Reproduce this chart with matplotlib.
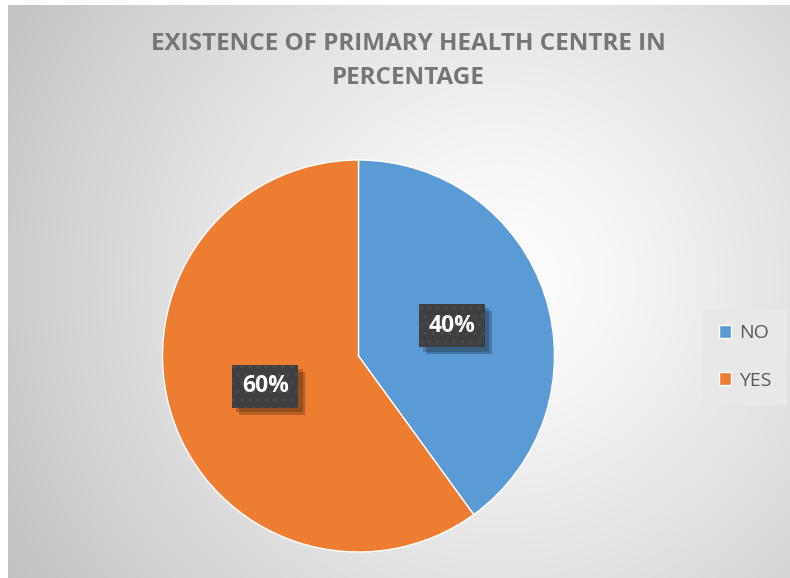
import numpy as np
import matplotlib
matplotlib.use("Agg")
import matplotlib.pyplot as plt
import matplotlib.patheffects as pe

# Survey answers
categories = ["NO", "YES"]
shares = [40, 60]
title_text = "EXISTENCE OF PRIMARY HEALTH CENTRE IN\nPERCENTAGE"
slice_colors = ["#5B9BD5", "#ED7D31"]

W, H = 790, 578
plt.rcParams["font.family"] = ["Open Sans", "DejaVu Sans"]
plt.rcParams["hatch.linewidth"] = 1.3

fig = plt.figure(figsize=(W / 100, H / 100), dpi=100)
fig.patch.set_facecolor("white")
ax = fig.add_axes([0, 0, 1, 1])

# Radial grey-to-white background of the chart area
x0, y0 = 8, 5
xs = np.arange(x0, W) + 0.5
ys = np.arange(y0, H) + 0.5
XX, YY = np.meshgrid(xs, ys)
r = np.hypot(XX - 500, YY - 280)
val = 255 - 60 * (r / 563) ** 1.2
val = np.clip(val, 0, 255) / 255.0
img = np.dstack([val, val, val])
ax.imshow(img, extent=(x0, W, 0, H - y0), origin="upper", aspect="auto",
          zorder=0, interpolation="bilinear")

# Pie
label_size = 16.5
wedges, _, autotexts = ax.pie(
    shares,
    colors=slice_colors,
    startangle=90,
    counterclock=False,
    center=(358.5, H - 356),
    radius=196,
    frame=True,
    autopct=lambda p: f"{p:.0f}%",
    pctdistance=0.5,
    wedgeprops=dict(edgecolor="white", linewidth=1.0),
    textprops=dict(color="white", fontsize=label_size, fontweight="bold"),
)
box_pad = "square,pad=0.42"
for t in autotexts:
    x, y = t.get_position()
    # soft drop shadow behind the label box
    sh = ax.text(x, y, t.get_text(), ha="center", va="center", color="none",
                 fontsize=label_size, fontweight="bold", zorder=4)
    sh.set_bbox(dict(boxstyle=box_pad, facecolor="#404040", edgecolor="none"))
    sh.get_bbox_patch().set_path_effects([
        pe.SimplePatchShadow(offset=(5, -5), shadow_rgbFace="black", alpha=0.22),
        pe.SimplePatchShadow(offset=(3, -3), shadow_rgbFace="black", alpha=0.2),
    ])
    t.set_zorder(5)
    t.set_bbox(dict(boxstyle=box_pad, facecolor="#3f3f3f",
                    edgecolor="#4a4a4a", linewidth=0, hatch=".."))

# Title
ax.text(408.5, H - 61, title_text, ha="center", va="center",
        fontsize=17.5, fontweight="bold", color="#767676", linespacing=1.5)

# Legend
leg = ax.legend(wedges, categories, loc="center", bbox_to_anchor=(745, H - 357),
                bbox_transform=ax.transData, frameon=True, fontsize=14,
                handlelength=0.65, handleheight=0.65, handletextpad=0.4,
                labelspacing=1.5, borderpad=0.8, fancybox=False)
leg.get_frame().set_facecolor("#e8e8e8")
leg.get_frame().set_edgecolor("none")
leg.get_frame().set_alpha(1)
for t in leg.get_texts():
    t.set_color("#595959")

ax.set_xlim(0, W)
ax.set_ylim(0, H)
ax.axis("off")

fig.savefig("out.png", dpi=100)
